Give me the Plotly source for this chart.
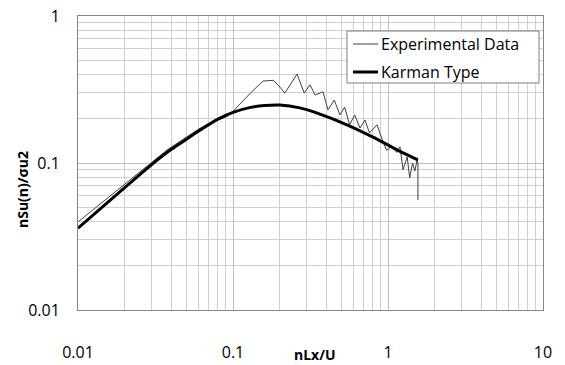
import plotly.graph_objects as go

# Experimental spectrum
exp_x = [0.01, 0.02, 0.038, 0.06, 0.07, 0.08, 0.09, 0.1, 0.106, 0.13, 0.156, 0.182,
         0.195, 0.216, 0.259, 0.288, 0.314, 0.339, 0.381, 0.41, 0.45, 0.49, 0.525,
         0.565, 0.61, 0.66, 0.71, 0.76, 0.85, 0.91, 0.93, 0.98, 1.06, 1.14, 1.195,
         1.25, 1.33, 1.38, 1.44, 1.49, 1.54, 1.56, 1.56]
exp_y = [0.0397, 0.072, 0.124, 0.17, 0.186, 0.196, 0.205, 0.222, 0.24, 0.30, 0.361, 0.365,
         0.34, 0.299, 0.403, 0.299, 0.34, 0.29, 0.305, 0.23, 0.268, 0.212, 0.24,
         0.182, 0.212, 0.173, 0.196, 0.16, 0.182, 0.148, 0.14, 0.122, 0.13, 0.118, 0.129,
         0.09, 0.11, 0.079, 0.1, 0.088, 0.105, 0.1, 0.056]

# Karman type spectrum
kar_x = [0.01, 0.02, 0.03, 0.04, 0.05, 0.06, 0.08, 0.1, 0.13, 0.16, 0.2, 0.27,
         0.364, 0.543, 0.80, 1.16, 1.56]
kar_y = [0.036, 0.068, 0.098, 0.124, 0.145, 0.165, 0.199, 0.221, 0.239, 0.246, 0.248,
         0.237, 0.215, 0.182, 0.150, 0.122, 0.105]

x_ticks = [0.01, 0.1, 1, 10]
x_labels = ["0.01", "0.1", "1", "10"]
y_ticks = [0.01, 0.1, 1]
y_labels = ["0.01", "0.1", "1"]

series_names = ["Experimental Data", "Karman Type"]

FONT = "Open Sans"
L, R, T, B = 78, 543, 16, 310
W, H = R - L, B - T


def px(xp):
    return (xp - L) / W


def py(yp):
    return (B - yp) / H


fig = go.Figure()
fig.add_trace(go.Scatter(x=exp_x, y=exp_y, mode="lines", name=series_names[0],
                         line=dict(color="#404040", width=1), showlegend=False))
fig.add_trace(go.Scatter(x=kar_x, y=kar_y, mode="lines", name=series_names[1],
                         line=dict(color="#000000", width=3, shape="spline", smoothing=0.5),
                         showlegend=False))

grid_major = "#c0c0c0"
grid_minor = "#d0d0d0"

fig.update_layout(
    width=565, height=365,
    margin=dict(l=L, r=565 - R, t=T, b=365 - B),
    paper_bgcolor="white", plot_bgcolor="white",
    font=dict(family=FONT, size=16, color="#000000"),
    showlegend=False,
    xaxis=dict(type="log", range=[-2, 1], tickmode="array", tickvals=x_ticks,
               ticktext=x_labels, showgrid=True, gridcolor=grid_major, gridwidth=1,
               showline=True, linecolor="#868686", mirror=True, ticks="",
               ticklabelstandoff=28, automargin=False,
               minor=dict(dtick="D1", showgrid=True, gridcolor=grid_minor, ticks=""),
               zeroline=False),
    yaxis=dict(type="log", range=[-2, 0], tickmode="array", tickvals=y_ticks,
               ticktext=y_labels, showgrid=True, gridcolor=grid_major, gridwidth=1,
               showline=True, linecolor="#868686", mirror=True, ticks="",
               ticklabelstandoff=14, automargin=False,
               minor=dict(dtick="D1", showgrid=True, gridcolor=grid_minor, ticks=""),
               zeroline=False),
)

# Legend box drawn manually (Excel style)
fig.add_shape(type="rect", xref="paper", yref="paper",
              x0=px(347), x1=px(539), y0=py(83), y1=py(31),
              fillcolor="white", line=dict(color="#7f7f7f", width=1), layer="above")
for i, (name, col, w) in enumerate(zip(series_names, ["#404040", "#000000"], [1, 3])):
    yy = 44 + 28 * i
    fig.add_shape(type="line", xref="paper", yref="paper",
                  x0=px(353), x1=px(378), y0=py(yy), y1=py(yy),
                  line=dict(color=col, width=w), layer="above")
    fig.add_annotation(text=name, xref="paper", yref="paper", x=px(379), y=py(yy),
                       xanchor="left", yanchor="middle", showarrow=False,
                       font=dict(family=FONT, size=16))

fig.add_annotation(text="<b>nLx/U</b>", xref="paper", yref="paper",
                   x=px(315), y=py(354), showarrow=False,
                   xanchor="center", yanchor="middle", font=dict(family=FONT, size=14))
fig.add_annotation(text="<b>nSu(n)/σu2</b>", xref="paper", yref="paper",
                   x=px(22), y=py(190), showarrow=False, textangle=-90,
                   xanchor="center", yanchor="middle", font=dict(family=FONT, size=14))

fig.write_html("out.html")
